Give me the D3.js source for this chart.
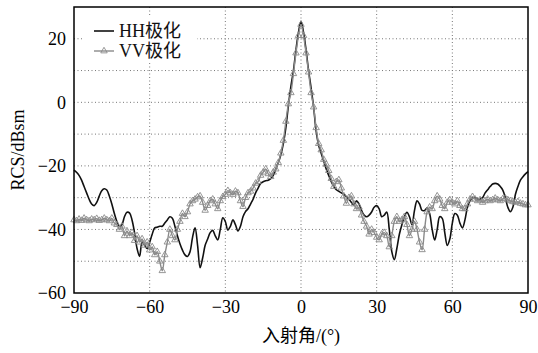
<!DOCTYPE html>
<html>
<head>
<meta charset="utf-8">
<script src="https://cdn.jsdelivr.net/npm/d3@7"></script>
<style>
  body { margin: 0; background: #fff; }
  text { font-family: "Liberation Serif", "Noto Sans CJK SC", serif; }
</style>
</head>
<body>
<div id="chart"></div>
<script>
var width = 538, height = 353;
var margin = {top: 7, right: 10, bottom: 60, left: 74};

// incidence angle, 1 degree steps
var angles = d3.range(-90, 91, 1);

var xTicks = [-90, -60, -30, 0, 30, 60, 90];
var yTicks = [-60, -40, -20, 0, 20];
var yGrid = [-50, -40, -30, -20, -10, 0, 10, 20];

var seriesNames = ["HH极化", "VV极化"];

// HH polarisation RCS (dBsm), -90..90
var hh = [
  -21.3, -22, -23, -24.5, -26.5, -28.5, -30.5, -32, -32.5, -31.5,
  -29.5, -27.8, -27.2, -27.6, -29.5, -32, -35, -37.5, -39, -38.5,
  -36, -34.6, -34.8, -37, -41, -46, -48.5, -44, -45, -46,
  -44, -41.5, -39.5, -39.3, -39, -39, -38, -37, -36, -36.5,
  -39, -42, -44.5, -46.5, -48, -48.5, -47, -42.5, -39.5, -45,
  -52, -49, -45, -43, -41, -40.3, -42, -43.3, -40, -36.3,
  -37.5, -40.2, -39, -37, -38.5, -40.5, -39, -36, -34.4, -33.5,
  -32, -30.5, -28.5, -27, -25.5, -25, -24.7, -24.5, -24, -23,
  -21, -19, -16.5, -13, -8, -1, 5, 10, 16.5, 22,
  25.5,
  22, 16.5, 10, 4.5, -1.5, -9, -13.5, -16, -18.5, -21,
  -23, -25, -26.5, -27.5, -28, -28.5, -29, -29.7, -30.5, -31.5,
  -32.3, -31, -32, -34, -35.5, -36, -35.5, -34.5, -33, -32.5,
  -33.5, -36, -35.5, -34.5, -40, -47, -49.5, -46, -41.5, -38.5,
  -36, -34.6, -36, -38.5, -34, -31, -32, -34, -34, -33.3,
  -35, -40, -43.3, -40, -36, -36.5, -41, -45, -43, -38,
  -35, -35.5, -38, -39.5, -37, -33, -31, -30, -30, -30.5,
  -30.5, -30, -28.5, -27.5, -26.5, -25.7, -25.5, -25.7, -26.5, -27.6,
  -30, -33, -34.4, -33, -29, -26.5, -24.5, -23.4, -22.5, -21.8
];

// VV polarisation RCS (dBsm), -90..90
var vv = [
  -37, -37.3, -36.8, -37.2, -36.5, -37, -37.3, -36.8, -37, -36.6,
  -37.2, -37, -36.5, -37, -37.3, -36.5, -38, -38.5, -40, -39,
  -42, -40.5, -42, -41, -43.5, -42, -44, -43, -45, -44,
  -46.5, -45.5, -48, -47, -50, -53, -48, -44, -40, -42,
  -43.3, -40, -37.5, -35, -36, -34.5, -32, -31, -30.5, -29.8,
  -29.5, -31.5, -34, -32.5, -31, -30.5, -32, -33.5, -31, -29.7,
  -29, -27.8, -28.5, -29, -28, -28.5, -31, -32.8, -30, -28.5,
  -28, -27, -25.5, -25, -23, -22, -21, -22.5, -23.4, -22,
  -21, -19, -16, -12, -6, -0.5, 3, 9, 15.5, 21,
  24.5,
  21, 15.5, 9.5, 3, -1.5, -8, -13, -15, -18, -19.5,
  -21.5, -24, -26.5, -25, -24.4, -27, -29.5, -31.8, -30, -29.5,
  -32, -33.5, -33, -35.5, -37.5, -39, -41.5, -40, -41, -42.5,
  -43.3, -41.5, -41, -42, -45.5, -42, -37.5, -36, -37.5, -37,
  -36, -38.5, -42, -40, -37.5, -40, -44, -46.4, -40, -34.5,
  -33, -33.5, -31, -29.5, -30.5, -32.5, -33.5, -31.5, -30.7, -31.5,
  -32, -31, -32.5, -33.5, -33.5, -32, -30.5, -29.7, -30.5, -31,
  -30.7, -31.5, -31, -30.5, -31, -30.7, -30.2, -30.7, -31, -30.4,
  -30.2, -30.7, -31, -31.3, -31.5, -31.3, -31.8, -32, -32.3, -32.3
];

var svg = d3.select("#chart")
    .append("svg")
    .attr("width", width)
    .attr("height", height);

var w = width - margin.left - margin.right;
var h = height - margin.top - margin.bottom;

var g = svg.append("g")
    .attr("transform", "translate(" + margin.left + "," + margin.top + ")");

var x = d3.scaleLinear().domain([-90, 90]).range([0, w]);
var y = d3.scaleLinear().domain([-60, 30]).range([h, 0]);

// dotted grid
g.selectAll(".hgrid")
    .data(yGrid)
    .enter().append("line")
    .attr("x1", 0).attr("x2", w)
    .attr("y1", function(d) { return y(d); })
    .attr("y2", function(d) { return y(d); })
    .attr("stroke", "#777")
    .attr("stroke-width", 1)
    .attr("stroke-dasharray", "1,2.5");

g.selectAll(".vgrid")
    .data(xTicks.slice(1, -1))
    .enter().append("line")
    .attr("y1", 0).attr("y2", h)
    .attr("x1", function(d) { return x(d); })
    .attr("x2", function(d) { return x(d); })
    .attr("stroke", "#777")
    .attr("stroke-width", 1)
    .attr("stroke-dasharray", "1,2.5");

var minus = function(v) { return v < 0 ? "\u2212" + Math.abs(v) : "" + v; };

// axes (labels only)
var xAxis = g.append("g")
    .attr("transform", "translate(0," + h + ")")
    .call(d3.axisBottom(x).tickValues(xTicks).tickSize(0).tickPadding(7).tickFormat(minus));
xAxis.select(".domain").remove();
xAxis.selectAll("text").attr("font-size", 18).attr("fill", "#000")
    .attr("font-family", "Liberation Serif");

var yAxis = g.append("g")
    .call(d3.axisLeft(y).tickValues(yTicks).tickSize(0).tickPadding(8).tickFormat(minus));
yAxis.select(".domain").remove();
yAxis.selectAll("text").attr("font-size", 18).attr("fill", "#000")
    .attr("font-family", "Liberation Serif");

var data = angles.map(function(a, i) { return {a: a, hh: hh[i], vv: vv[i]}; });

var lineVV = d3.line()
    .x(function(d) { return x(d.a); })
    .y(function(d) { return y(d.vv); })
    .curve(d3.curveCatmullRom);

var lineHH = d3.line()
    .x(function(d) { return x(d.a); })
    .y(function(d) { return y(d.hh); })
    .curve(d3.curveCatmullRom);

var plot = g.append("g");

plot.append("path")
    .datum(data)
    .attr("d", lineHH)
    .attr("fill", "none")
    .attr("stroke", "#111")
    .attr("stroke-width", 1.6);

plot.append("path")
    .datum(data)
    .attr("d", lineVV)
    .attr("fill", "none")
    .attr("stroke", "#8a8a8a")
    .attr("stroke-width", 1.4);

var tri = d3.symbol().type(d3.symbolTriangle).size(18);

plot.selectAll(".vvmark")
    .data(data)
    .enter().append("path")
    .attr("d", tri)
    .attr("transform", function(d) { return "translate(" + x(d.a) + "," + y(d.vv) + ")"; })
    .attr("fill", "none")
    .attr("stroke", "#8a8a8a")
    .attr("stroke-width", 0.9);

// legend
var leg = g.append("g").attr("transform", "translate(8,8)");
leg.append("rect")
    .attr("width", 115).attr("height", 48)
    .attr("fill", "#fff");
leg.append("line")
    .attr("x1", 12).attr("x2", 32).attr("y1", 16).attr("y2", 16)
    .attr("stroke", "#111").attr("stroke-width", 1.6);
leg.append("line")
    .attr("x1", 12).attr("x2", 32).attr("y1", 36).attr("y2", 36)
    .attr("stroke", "#8a8a8a").attr("stroke-width", 1.4);
leg.append("path")
    .attr("d", tri)
    .attr("transform", "translate(22,36)")
    .attr("fill", "none").attr("stroke", "#8a8a8a").attr("stroke-width", 0.9);
leg.selectAll(".lt")
    .data(seriesNames)
    .enter().append("text")
    .attr("x", 37)
    .attr("y", function(d, i) { return 22 + i * 20; })
    .attr("font-size", 18)
    .attr("fill", "#111")
    .text(function(d) { return d; });

// frame
g.append("rect")
    .attr("width", w).attr("height", h)
    .attr("fill", "none")
    .attr("stroke", "#000")
    .attr("stroke-width", 1.5);

// axis titles
svg.append("text")
    .attr("x", margin.left + w / 2)
    .attr("y", 342)
    .attr("text-anchor", "middle")
    .attr("font-size", 18)
    .text("入射角/(°)");

svg.append("text")
    .attr("transform", "translate(24," + (margin.top + h / 2) + ") rotate(-90)")
    .attr("text-anchor", "middle")
    .attr("font-size", 18)
    .text("RCS/dBsm");
</script>
</body>
</html>
